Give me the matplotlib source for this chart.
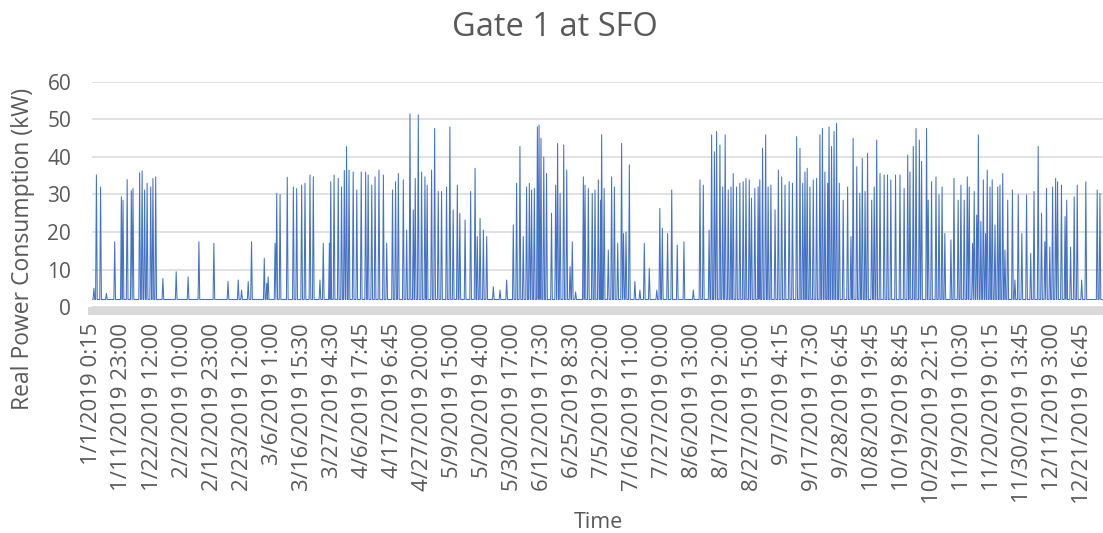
import numpy as np
import matplotlib.pyplot as plt

plt.rcParams['font.family'] = ['Open Sans', 'DejaVu Sans']

# 15-minute samples over 2019
samples_per_day = 96
n_samples = 35040
label_step = 1040

tick_labels = ['1/1/2019 0:15', '1/11/2019 23:00', '1/22/2019 12:00', '2/2/2019 10:00',
               '2/12/2019 23:00', '2/23/2019 12:00', '3/6/2019 1:00', '3/16/2019 15:30',
               '3/27/2019 4:30', '4/6/2019 17:45', '4/17/2019 6:45', '4/27/2019 20:00',
               '5/9/2019 15:00', '5/20/2019 4:00', '5/30/2019 17:00', '6/12/2019 17:30',
               '6/25/2019 8:30', '7/5/2019 22:00', '7/16/2019 11:00', '7/27/2019 0:00',
               '8/6/2019 13:00', '8/17/2019 2:00', '8/27/2019 15:00', '9/7/2019 4:15',
               '9/17/2019 17:30', '9/28/2019 6:45', '10/8/2019 19:45', '10/19/2019 8:45',
               '10/29/2019 22:15', '11/9/2019 10:30', '11/20/2019 0:15', '11/30/2019 13:45',
               '12/11/2019 3:00', '12/21/2019 16:45']

# standby draw between charging sessions (kW)
idle_kw = 2.0

# charging session peaks: day of year and kW
spike_day = [0.7, 1.6, 3.1, 5.2, 8.2, 10.6, 11.2, 12.7, 14.2, 14.8, 17.2, 18.1, 19.0, 19.9,
             21.2, 22.0, 23.0, 25.6, 30.4, 34.7, 38.6, 44.0, 49.1,
             52.8, 54.0, 56.4, 57.6, 62.2, 63.1, 63.6, 66.1, 66.7, 67.9, 70.5, 72.7, 73.9,
             75.7, 76.9, 78.7, 79.9, 82.3, 83.5, 85.7, 86.2, 87.4, 88.9, 90.1, 91.1, 91.9,
             92.8, 94.3, 95.6, 97.2, 98.8, 99.7, 101.0, 102.2, 103.6, 105.2,
             106.4, 108.5, 109.6, 110.6, 112.4, 113.6, 114.8, 116.0, 116.7, 117.8, 119.0,
             120.2, 121.0, 122.6, 123.7, 125.0, 126.2, 128.0, 129.2, 130.4, 131.9, 132.8,
             134.7, 136.7, 138.3, 139.1, 140.1, 141.3, 142.5, 144.9, 147.3, 149.7, 152.1,
             153.3, 154.5, 155.7, 156.9, 157.9,
             158.7, 159.7, 160.8, 161.4, 162.1, 163.1, 164.1, 165.9, 167.4, 168.1, 169.0,
             170.3, 171.4, 172.6, 173.4, 174.6, 177.4, 178.0, 179.2, 180.6, 181.6, 182.8,
             183.7, 184.0, 184.9, 186.4, 187.6, 188.6, 189.8, 191.2, 191.9, 192.8, 194.0,
             196.0, 197.8, 199.4, 201.2, 203.9, 205.0, 205.9, 207.8, 209.3,
             211.3, 213.7, 217.1, 219.5, 220.7, 222.8, 223.7, 224.7, 225.5, 226.7, 227.7,
             228.6, 229.7, 230.7, 231.5, 232.7, 233.9, 235.1, 236.1, 237.3, 238.1, 239.3,
             240.5, 241.1, 242.1, 243.2, 244.1, 245.1, 246.6, 247.8, 249.0, 250.2, 251.7,
             252.9, 254.4, 255.6, 256.6, 257.4, 258.2, 259.2, 260.4, 261.6,
             262.8, 263.7, 264.6, 265.6, 266.1, 267.0, 267.9, 268.8, 269.8, 271.2, 272.8,
             274.0, 274.8, 276.1, 277.2, 278.1, 279.1, 280.0, 281.5, 282.4, 283.3, 284.5,
             286.0, 287.2, 288.4, 290.1, 291.7, 293.2, 294.5, 295.3, 296.5, 297.5, 298.7,
             299.5, 301.3, 301.9, 303.1, 304.7, 305.8, 306.9, 307.9, 310.1, 311.2, 312.7,
             313.7, 314.9,
             316.0, 316.7, 317.9, 318.5, 319.4, 320.0, 320.9, 321.8, 322.6, 323.2, 324.2,
             325.0, 326.0, 327.0, 327.8, 328.8, 329.6, 330.6, 332.3, 333.2, 334.4, 335.7,
             337.4, 338.9, 340.1, 341.6, 342.8, 344.0, 344.6, 345.8, 346.8, 347.9, 348.6,
             350.0, 351.3, 351.9, 353.3, 354.6, 355.7, 357.3, 358.8, 362.9, 363.9]
spike_kw = [5.0, 35.2, 32.0, 3.6, 17.4, 29.4, 28.5, 34.0, 31.0, 31.6, 35.8, 36.3, 31.2, 33.0,
            32.0, 34.3, 34.7, 7.6, 9.4, 8.0, 17.4, 17.0, 6.8,
            7.2, 4.5, 6.8, 17.4, 13.0, 6.3, 8.0, 17.0, 30.3, 30.0, 34.6, 32.0, 31.6,
            32.5, 33.0, 35.2, 34.7, 7.2, 17.0, 17.0, 33.4, 35.2, 34.3, 32.0, 36.4, 42.8,
            36.5, 36.0, 31.2, 36.0, 36.0, 35.2, 32.5, 34.7, 36.5, 35.2,
            17.0, 31.2, 33.4, 35.6, 33.9, 20.5, 51.5, 25.9, 34.3, 51.2, 36.0,
            34.7, 32.5, 36.5, 47.6, 30.8, 30.8, 32.0, 48.0, 25.9, 32.5, 25.0,
            23.2, 30.8, 37.0, 18.8, 23.6, 20.5, 18.8, 5.4, 4.5, 7.2, 21.9,
            33.0, 42.8, 18.8, 32.0, 33.0,
            31.2, 31.6, 48.0, 48.5, 45.0, 40.0, 35.6, 25.0, 32.5, 43.6, 30.3,
            43.2, 36.5, 10.8, 17.4, 4.0, 34.7, 32.5, 31.6, 30.3, 31.2, 33.9,
            28.5, 45.9, 31.6, 15.2, 34.7, 32.0, 17.0, 43.6, 19.6, 20.0, 37.9,
            6.8, 4.5, 17.0, 10.3, 4.5, 26.3, 21.0, 19.6, 31.2,
            16.5, 17.4, 4.5, 33.9, 32.5, 20.5, 45.9, 41.4, 46.8, 43.2, 32.0,
            45.9, 31.2, 32.0, 35.6, 32.0, 33.0, 33.4, 34.3, 33.9, 29.0, 31.6,
            32.0, 33.9, 42.3, 45.9, 32.0, 32.5, 25.9, 36.5, 34.7, 32.5, 33.4,
            33.0, 45.4, 42.3, 33.0, 36.0, 37.0, 32.0, 33.9, 34.3,
            45.9, 47.6, 36.0, 33.0, 48.0, 42.8, 46.8, 49.0, 33.0, 28.5, 32.0,
            18.8, 45.0, 37.4, 30.3, 39.6, 30.8, 41.0, 28.5, 32.0, 44.5, 35.6,
            35.2, 35.2, 33.9, 35.2, 35.2, 31.6, 40.5, 36.0, 42.8, 47.6, 44.5,
            38.8, 47.6, 28.5, 33.4, 34.7, 29.9, 32.0, 19.6, 17.9, 34.3, 28.5,
            32.5, 28.5,
            34.7, 32.0, 17.0, 30.8, 24.5, 45.9, 22.8, 33.9, 19.6, 36.5, 32.0,
            33.9, 21.9, 32.0, 32.5, 35.6, 15.2, 28.5, 31.2, 7.2, 29.9, 19.6,
            29.9, 14.3, 30.8, 42.8, 25.0, 17.4, 31.6, 16.0, 32.0, 34.3, 33.4,
            32.5, 24.1, 28.5, 16.0, 29.4, 32.5, 7.2, 33.4, 31.2, 30.3]

# each session: up from standby, peak, back to standby
x = [0.0]
y = [idle_kw]
for d, v in zip(spike_day, spike_kw):
    x += [d - 0.3, d, d + 0.3]
    y += [idle_kw, v, idle_kw]
x.append(365.0)
y.append(idle_kw)
x = np.array(x) * samples_per_day

text_color = '#595959'

fig = plt.figure(figsize=(11.03, 5.33), dpi=100)
ax = fig.add_axes([0.0834, 0.424, 0.9166, 0.4222])

ax.plot(x, y, color='#4472C4', linewidth=0.75)

ax.set_xlim(0, n_samples)
ax.set_ylim(0, 60)
ax.set_yticks(np.arange(0, 61, 10))
ax.set_xticks(np.arange(len(tick_labels)) * label_step)
ax.set_xticklabels(tick_labels)
ax.tick_params(axis='x', length=0, pad=8.5, labelrotation=90, labelsize=16,
               labelcolor=text_color)
ax.tick_params(axis='y', length=0, pad=15, labelsize=15, labelcolor=text_color)

ax.grid(axis='y', color='#d9d9d9', linewidth=1.1)
ax.set_axisbelow(True)
for side in ['top', 'right', 'left']:
    ax.spines[side].set_visible(False)
ax.spines['bottom'].set_color('#d9d9d9')
ax.spines['bottom'].set_linewidth(5.8)
ax.spines['bottom'].set_position(('outward', 2.9))

fig.text(555 / 1103, 1 - 28 / 533, 'Gate 1 at SFO', ha='center', va='center',
         fontsize=23.5, color=text_color)
fig.text(23 / 1103, 1 - 88 / 533, 'Real Power Consumption (kW)', ha='center', va='top',
         rotation=90, fontsize=16.5, color=text_color)
fig.text(598 / 1103, 1 - 522 / 533, 'Time', ha='center', va='center',
         fontsize=15.5, color=text_color)

fig.savefig('out.png', dpi=100)
